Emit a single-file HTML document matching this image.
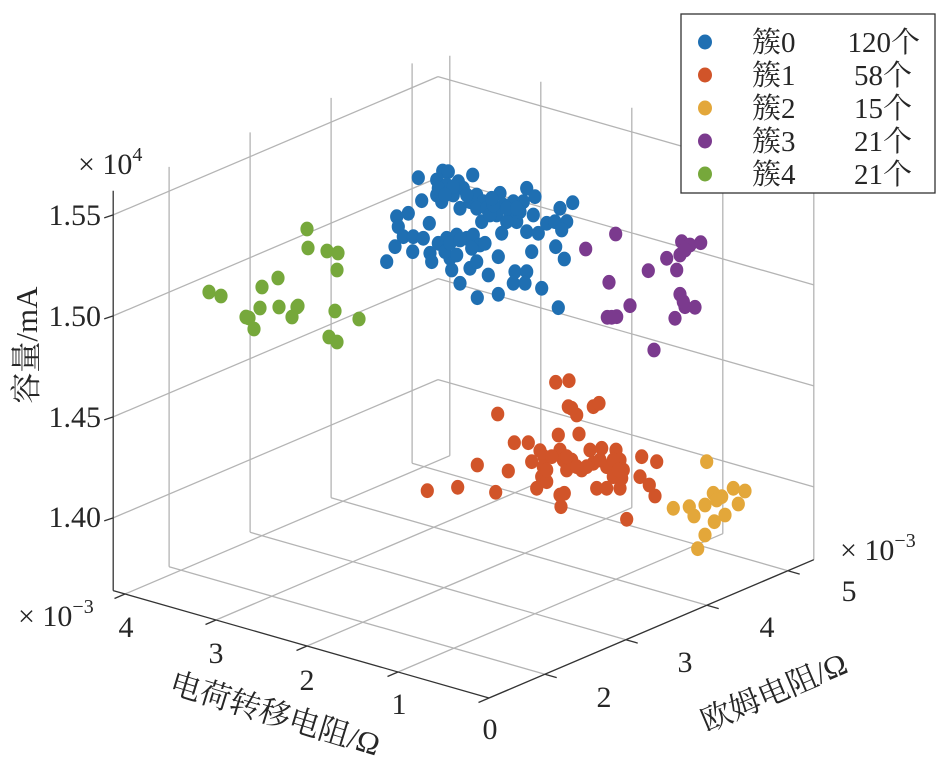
<!DOCTYPE html>
<html><head><meta charset="utf-8"><style>
html,body{margin:0;padding:0;background:#fff;}
svg{display:block;}
text{font-family:"Liberation Serif","Noto Serif CJK SC",serif;fill:#262626;}
</style></head><body>
<svg id="s" width="945" height="780" viewBox="0 0 945 780" xmlns="http://www.w3.org/2000/svg">
<g id="grid" stroke="#b4b4b4" stroke-width="1.3" fill="none"></g>
<g id="axes" stroke="#333" stroke-width="1.3" fill="none"></g>
<g id="pts"></g>
<g font-size="30" text-anchor="end">
<text x="101" y="225">1.55</text>
<text x="101" y="326">1.50</text>
<text x="101" y="427">1.45</text>
<text x="101" y="527">1.40</text>
</g>
<text x="78" y="174" font-size="30">× 10<tspan font-size="20" dy="-13">4</tspan></text>
<text x="18" y="626" font-size="30">× 10<tspan font-size="20" dy="-13">−3</tspan></text>
<text x="840" y="560" font-size="30">× 10<tspan font-size="20" dy="-13">−3</tspan></text>
<g font-size="30" text-anchor="middle">
<text x="126" y="637">4</text>
<text x="216" y="663">3</text>
<text x="307" y="690">2</text>
<text x="399" y="714">1</text>
<text x="490" y="739">0</text>
<text x="604" y="707">2</text>
<text x="685" y="672">3</text>
<text x="767" y="637">4</text>
<text x="849" y="601">5</text>
</g>
<text font-size="31" text-anchor="middle" transform="translate(272,724) rotate(17)">电荷转移电阻/Ω</text>
<text font-size="31" text-anchor="middle" transform="translate(778,702) rotate(-23)">欧姆电阻/Ω</text>
<text font-size="31" text-anchor="middle" transform="translate(37,345) rotate(-90)">容量/mA</text>
<rect x="681" y="14" width="254" height="179" fill="#fff" stroke="#333" stroke-width="1.3"/>
<g font-size="29">
<ellipse cx="705" cy="42" rx="7" ry="7.5" fill="#1f6fb2"/>
<ellipse cx="705" cy="75" rx="7" ry="7.5" fill="#d15429"/>
<ellipse cx="705" cy="108" rx="7" ry="7.5" fill="#e3a73a"/>
<ellipse cx="705" cy="141" rx="7" ry="7.5" fill="#7b3a8e"/>
<ellipse cx="705" cy="174" rx="7" ry="7.5" fill="#76a83b"/>
<text x="752" y="52">簇0</text><text x="920" y="52" text-anchor="end">120个</text>
<text x="752" y="85">簇1</text><text x="912" y="85" text-anchor="end">58个</text>
<text x="752" y="118">簇2</text><text x="912" y="118" text-anchor="end">15个</text>
<text x="752" y="151">簇3</text><text x="912" y="151" text-anchor="end">21个</text>
<text x="752" y="184">簇4</text><text x="912" y="184" text-anchor="end">21个</text>
</g>
</svg>
<script>
(function(){
var NS="http://www.w3.org/2000/svg";
var xmax=4.13,ymin=1.31,ymax=5.32,zmin=1.364,zmax=1.562;
function P(x,y,z){return [489-91*x+81*(y-ymin),698-26*x-34.5*(y-ymin)-2020*(z-zmin)];}
function line(g,a,b){var l=document.createElementNS(NS,"line");l.setAttribute("x1",a[0].toFixed(1));l.setAttribute("y1",a[1].toFixed(1));l.setAttribute("x2",b[0].toFixed(1));l.setAttribute("y2",b[1].toFixed(1));g.appendChild(l);}
var g=document.getElementById("grid"),ax=document.getElementById("axes");
var i,zs=[1.40,1.45,1.50,1.55];
for(i=0;i<=4;i++){line(g,P(i,ymin,zmin),P(i,ymax,zmin));line(g,P(i,ymax,zmin),P(i,ymax,zmax));}
for(i=2;i<=5;i++){line(g,P(0,i,zmin),P(xmax,i,zmin));line(g,P(xmax,i,zmin),P(xmax,i,zmax));}
zs.forEach(function(z){line(g,P(xmax,ymin,z),P(xmax,ymax,z));line(g,P(0,ymax,z),P(xmax,ymax,z));});
line(ax,P(0,ymin,zmin),P(xmax,ymin,zmin));
line(ax,P(0,ymin,zmin),P(0,ymax,zmin));
line(ax,P(xmax,ymin,zmin),P(xmax,ymin,zmax));
for(i=0;i<=4;i++){line(ax,P(i,ymin,zmin),P(i,ymin-0.13,zmin));}
for(i=2;i<=5;i++){line(ax,P(0,i,zmin),P(-0.13,i,zmin));}
zs.forEach(function(z){var p=P(xmax,ymin,z);line(ax,p,[p[0]-9,p[1]+3]);});
var pts=document.getElementById("pts");
function dot(x,y,c){var e=document.createElementNS(NS,"ellipse");e.setAttribute("cx",x.toFixed(1));e.setAttribute("cy",y.toFixed(1));e.setAttribute("rx","6.6");e.setAttribute("ry","7.4");e.setAttribute("fill",c);pts.appendChild(e);}
var blue=[[145,68],[200,75],[218,48],[235,50],[308,60],[265,80],[280,100],[200,120],[215,140],[250,120],[270,160],[300,140],[320,120],[340,140],[320,160],[350,160],[390,115],[400,150],[380,180],[420,170],[440,200],[460,140],[470,100],[495,125],[490,180],[470,230],[410,200],[395,235],[335,200],[155,137],[115,175],[80,185],[85,215],[100,245],[130,245],[160,250],[178,205],[75,275],[50,320],[128,290],[180,295],[185,320],[205,265],[230,250],[260,240],[290,250],[310,240],[330,270],[345,265],[305,280],[240,310],[245,345],[270,385],[300,340],[320,320],[322,428],[355,360],[385,305],[385,418],[435,350],[470,350],[430,385],[465,385],[485,290],[515,400],[505,235],[530,205],[555,200],[570,160],[590,200],[575,225],[608,143],[557,275],[583,312],[565,458],[225,290],[260,300],[230,90],[250,95],[360,180],[430,140],[450,170],[290,120],[370,150],[240,265],[270,255],[410,160],[440,160],[365,130],[205,100],[225,120]];
blue.forEach(function(p){dot(370+p[0]/3,155+p[1]/3,"#1f6fb2");});
var purple=[[737,237],[647,282],[717,382],[780,452],[712,487],[740,485],[852,585],[835,347],[890,310],[920,345],[935,260],[960,270],[992,263],[930,300],[930,418],[945,455],[975,457],[915,490],[945,285],[725,487],[940,440]];
purple.forEach(function(p){dot(370+p[0]/3,155+p[1]/3,"#7b3a8e");});
var orange=[[467,67],[507,62],[505,140],[530,165],[580,140],[597,130],[293,162],[475,225],[537,222],[343,248],[385,248],[420,272],[432,290],[395,305],[430,320],[425,350],[410,385],[440,365],[480,270],[490,300],[500,330],[515,300],[545,330],[570,270],[605,265],[648,270],[580,310],[620,320],[660,300],[670,330],[640,350],[590,385],[620,385],[660,385],[665,355],[493,400],[483,440],[480,405],[725,290],[770,305],[720,350],[748,375],[765,408],[680,478],[232,315],[325,333],[173,382],[82,392],[287,397],[560,320],[515,145],[600,300],[640,300],[530,320],[455,290],[500,290],[440,330],[655,330]];
orange.forEach(function(p){dot(400+p[0]/3,360+p[1]/3,"#d15429");});
var yel=[[920,305],[820,445],[868,440],[882,468],[915,435],[940,400],[965,410],[1000,385],[1035,393],[1015,432],[975,465],[943,485],[915,525],[893,566],[950,420]];
yel.forEach(function(p){dot(400+p[0]/3,360+p[1]/3,"#e3a73a");});
var green=[[307,229],[308,248],[327,251],[338,253],[337,270],[278,278],[262,287],[209,292],[221,296],[249,318],[260,308],[279,307],[297,307],[292,317],[246,317],[254,329],[335,311],[359,319],[329,337],[337,342],[298,306]];
green.forEach(function(p){dot(p[0],p[1],"#76a83b");});
})();
</script>
</body></html>
